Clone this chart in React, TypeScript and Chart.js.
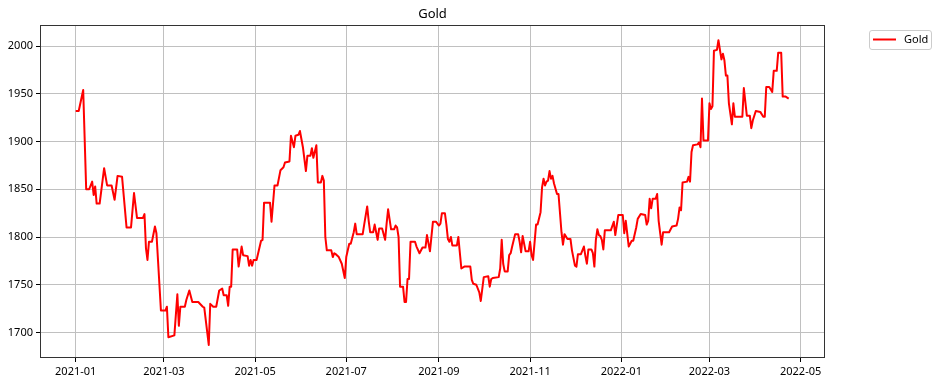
import React, { useEffect, useRef } from "react";
import { Chart, registerables } from "chart.js";

Chart.register(...registerables);

// Days since 2021-01-01 and gold closing prices
const days = [
  0, 2, 5, 7, 9, 11, 12, 13, 14, 16, 19, 21, 24, 26, 28, 31, 34, 37, 39, 41,
  45, 46, 47, 48, 49, 51, 53, 54, 57, 60, 61, 62, 66, 68, 69, 70, 73, 74, 76, 78,
  82, 85, 86, 89, 90, 92, 94, 96, 98, 99, 101, 102, 103, 104, 105, 108, 109, 111, 112, 115,
  116, 117, 118, 119, 121, 124, 125, 126, 130, 131, 133, 135, 137, 139, 140, 143, 144, 146, 147, 149,
  150, 152, 154, 155, 157, 158, 159, 161, 162, 164, 165, 166, 167, 168, 171, 172, 173, 174, 176, 178,
  180, 181, 183, 184, 186, 187, 188, 192, 193, 195, 196, 197, 199, 200, 201, 202, 203, 205, 207, 208,
  209, 211, 213, 214, 215, 216, 217, 219, 220, 221, 222, 223, 224, 227, 228, 230, 232, 234, 235, 237,
  239, 241, 243, 244, 245, 247, 248, 249, 250, 251, 252, 255, 256, 258, 260, 264, 265, 266, 268, 270,
  271, 273, 276, 277, 278, 279, 283, 284, 285, 286, 287, 289, 290, 291, 292, 294, 296, 297, 298, 299,
  301, 303, 304, 305, 306, 308, 309, 311, 312, 313, 314, 315, 316, 317, 318, 319, 320, 322, 323, 325,
  326, 327, 329, 331, 332, 334, 335, 336, 338, 340, 341, 342, 343, 345, 346, 347, 348, 349, 350, 351,
  352, 353, 354, 358, 360, 361, 363, 366, 367, 368, 370, 372, 373, 375, 376, 378, 381, 382, 383, 384,
  385, 386, 388, 389, 390, 392, 393, 397, 399, 402, 403, 404, 405, 406, 409, 410, 411, 412, 413, 416,
  417, 418, 419, 420, 423, 424, 425, 426, 427, 429, 430, 432, 433, 434, 435, 436, 437, 439, 440, 441,
  446, 447, 449, 451, 452, 453, 455, 458, 460, 461, 462, 464, 466, 467, 469, 470, 472, 473, 475, 477,
];

const gold = [
  1932, 1932, 1954, 1850, 1850, 1858, 1844, 1853, 1835, 1835, 1872, 1854, 1854, 1839, 1864, 1863, 1810, 1810, 1846, 1820,
  1820, 1824, 1788, 1776, 1795, 1795, 1811, 1804, 1723, 1723, 1727, 1695, 1697, 1740, 1707, 1727, 1727, 1734, 1744, 1732,
  1732, 1727, 1726, 1687, 1730, 1727, 1727, 1744, 1746, 1739, 1739, 1728, 1748, 1748, 1787, 1787, 1769, 1790, 1781, 1780,
  1770, 1776, 1770, 1776, 1776, 1796, 1797, 1836, 1836, 1816, 1854, 1854, 1870, 1873, 1878, 1879, 1906, 1894, 1906, 1907,
  1911, 1894, 1869, 1885, 1885, 1893, 1883, 1896, 1857, 1857, 1864, 1859, 1800, 1786, 1786, 1779, 1783, 1782, 1779, 1772,
  1757, 1779, 1793, 1793, 1805, 1814, 1803, 1803, 1813, 1832, 1817, 1805, 1805, 1813, 1805, 1797, 1809, 1809, 1797, 1814,
  1829, 1808, 1808, 1812, 1810, 1800, 1748, 1748, 1732, 1732, 1756, 1756, 1795, 1795, 1790, 1783, 1789, 1789, 1802, 1785,
  1816, 1816, 1812, 1814, 1825, 1825, 1813, 1798, 1795, 1800, 1791, 1791, 1800, 1767, 1769, 1769, 1755, 1751, 1750, 1742,
  1733, 1758, 1759, 1748, 1756, 1757, 1758, 1767, 1797, 1772, 1764, 1764, 1781, 1783, 1790, 1803, 1803, 1795, 1784, 1801,
  1785, 1785, 1795, 1781, 1776, 1813, 1813, 1826, 1852, 1861, 1854, 1858, 1859, 1869, 1861, 1864, 1856, 1845, 1845, 1805,
  1792, 1803, 1798, 1798, 1786, 1770, 1769, 1782, 1782, 1790, 1780, 1772, 1787, 1787, 1783, 1769, 1797, 1808, 1802, 1801,
  1797, 1787, 1807, 1807, 1816, 1802, 1823, 1823, 1804, 1817, 1790, 1796, 1796, 1810, 1819, 1824, 1823, 1813, 1817, 1840,
  1830, 1840, 1840, 1845, 1817, 1792, 1805, 1805, 1811, 1812, 1819, 1831, 1828, 1857, 1858, 1863, 1858, 1889, 1896, 1897,
  1899, 1894, 1945, 1901, 1901, 1940, 1934, 1937, 1995, 1996, 2006, 1986, 1992, 1985, 1969, 1969, 1940, 1918, 1940, 1926,
  1926, 1956, 1927, 1927, 1914, 1922, 1932, 1931, 1926, 1926, 1957, 1957, 1952, 1974, 1974, 1993, 1993, 1947, 1947, 1945,
];

// Tick positions (days since 2021-01-01) and their labels
const xTickDays = [0, 59, 120, 181, 243, 304, 365, 424, 485];
const xTickLabels = ["2021-01", "2021-03", "2021-05", "2021-07", "2021-09", "2021-11", "2022-01", "2022-03", "2022-05"];
const yTickValues = [1700, 1750, 1800, 1850, 1900, 1950, 2000];

const FONT = "'Noto Sans', 'DejaVu Sans', sans-serif";

const framePlugin = {
  id: "frame",
  afterDatasetsDraw(chart: any) {
    const { ctx, chartArea } = chart;
    ctx.save();
    ctx.strokeStyle = "#333";
    ctx.lineWidth = 1;
    ctx.strokeRect(
      Math.round(chartArea.left) + 0.5,
      Math.round(chartArea.top) + 0.5,
      Math.round(chartArea.right - chartArea.left) - 1,
      Math.round(chartArea.bottom - chartArea.top) - 1
    );
    ctx.restore();
  },
};

const legendPlugin = {
  id: "boxLegend",
  afterDraw(chart: any) {
    const { ctx } = chart;
    const ds = chart.data.datasets[0];
    const x = 869.5, y = 30.5, w = 62, h = 19, r = 2.5;
    ctx.save();
    ctx.beginPath();
    ctx.moveTo(x + r, y);
    ctx.lineTo(x + w - r, y);
    ctx.quadraticCurveTo(x + w, y, x + w, y + r);
    ctx.lineTo(x + w, y + h - r);
    ctx.quadraticCurveTo(x + w, y + h, x + w - r, y + h);
    ctx.lineTo(x + r, y + h);
    ctx.quadraticCurveTo(x, y + h, x, y + h - r);
    ctx.lineTo(x, y + r);
    ctx.quadraticCurveTo(x, y, x + r, y);
    ctx.closePath();
    ctx.fillStyle = "rgba(255,255,255,0.8)";
    ctx.fill();
    ctx.strokeStyle = "#cccccc";
    ctx.lineWidth = 1;
    ctx.stroke();
    ctx.beginPath();
    ctx.moveTo(873, 39.5);
    ctx.lineTo(896, 39.5);
    ctx.strokeStyle = ds.borderColor;
    ctx.lineWidth = 2;
    ctx.stroke();
    ctx.fillStyle = "#000";
    ctx.font = `11px ${FONT}`;
    ctx.textBaseline = "middle";
    ctx.textAlign = "left";
    ctx.fillText(ds.label, 904, 40);
    ctx.restore();
  },
};

export default function App() {
  const ref = useRef<HTMLCanvasElement | null>(null);

  useEffect(() => {
    document.body.style.margin = "0";
    const canvas = ref.current;
    if (!canvas) return;
    const chart = new Chart(canvas, {
      type: "line",
      data: {
        datasets: [
          {
            label: "Gold",
            data: days.map((d, i) => ({ x: d, y: gold[i] })),
            borderColor: "#ff0000",
            backgroundColor: "#ff0000",
            borderWidth: 2,
            pointRadius: 0,
            tension: 0,
            fill: false,
            borderJoinStyle: "round",
          } as any,
        ],
      },
      options: {
        animation: false,
        responsive: false,
        events: [],
        layout: { padding: { left: 0, right: 114, top: 0, bottom: 0 } },
        plugins: {
          legend: { display: false },
          tooltip: { enabled: false },
          title: {
            display: true,
            text: "Gold",
            color: "#000",
            fullSize: false,
            font: { family: FONT, size: 13, weight: "normal" as any },
            padding: { top: 6, bottom: 3.4 },
          },
        },
        scales: {
          x: {
            type: "linear",
            min: -23.9,
            max: 501.3,
            afterBuildTicks: (s: any) => {
              s.ticks = xTickDays.map((v) => ({ value: v }));
            },
            afterFit: (s: any) => {
              s.height = 28;
            },
            ticks: {
              autoSkip: false,
              maxRotation: 0,
              color: "#000",
              padding: 3,
              font: { family: FONT, size: 11 },
              callback: (v: any) => {
                const i = xTickDays.indexOf(Number(v));
                return i >= 0 ? xTickLabels[i] : "";
              },
            },
            grid: { color: "#c0c0c0", tickColor: "#000", tickLength: 4, lineWidth: 1 },
            border: { display: false },
          },
          y: {
            type: "linear",
            min: 1673.3,
            max: 2022,
            afterBuildTicks: (s: any) => {
              s.ticks = yTickValues.map((v) => ({ value: v }));
            },
            afterFit: (s: any) => {
              s.width = 40;
            },
            ticks: {
              color: "#000",
              padding: 3,
              font: { family: FONT, size: 11 },
              callback: (v: any) => String(v),
            },
            grid: { color: "#c0c0c0", tickColor: "#000", tickLength: 4, lineWidth: 1 },
            border: { display: false },
          },
        },
      },
      plugins: [framePlugin, legendPlugin],
    });
    return () => chart.destroy();
  }, []);

  return (
    <div style={{ width: 939, height: 386, position: "relative" }}>
      <canvas ref={ref} width={939} height={386} style={{ display: "block" }} />
    </div>
  );
}
